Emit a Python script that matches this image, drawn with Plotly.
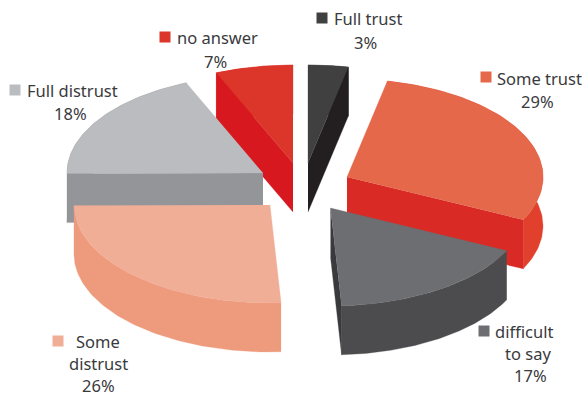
import numpy as np
import plotly.graph_objects as go

# ---- data (clockwise from 12 o'clock) ----
categories = ["Full trust", "Some trust", "difficult to say", "Some distrust", "Full distrust", "no answer"]
# printed percentages
percent_labels = [3, 29, 17, 26, 18, 7]
# slice sizes as they are actually drawn in the picture (measured from the slice edges)
slice_sizes = [3.3, 28.9, 16.9, 25.8, 18.7, 6.4]

# ---- styles ----
top_colors = ["#404041", "#e5684b", "#6d6e71", "#f1ae97", "#bbbcbf", "#dc3529"]
arc_colors = ["#2b292a", "#e0402c", "#4c4c4e", "#ee9a7c", "#939598", "#d7191f"]
# wall at the slice's start edge / end edge
start_wall = ["#231f20", "#d92a25", "#4c4c4e", "#ee9a7c", "#939598", "#d7191f"]
end_wall = ["#231f20", "#d92a25", "#3a3a3c", "#ee9a7c", "#939598", "#d7191f"]
draw_order = [5, 0, 4, 1, 2, 3]
text_color = "#3a3a3c"
FONT = "Noto Sans"
FONT_SIZE = 16.5

# ---- 3D projection layout (pixels) ----
TIPS = [(308, 163), (347, 177), (330.5, 208), (270, 205), (263, 173), (293, 163)]
RX, RY = 196, 98
DEPTH = 49

label_lines = {
    "Full trust": (["Full trust"], [(368, 18)], (322, 18)),
    "Some trust": (["Some trust"], [(539, 78)], (486, 77)),
    "difficult to say": (["difficult", "to say"], [(524, 331), (528, 353)], (484, 331)),
    "Some distrust": (["Some", "distrust"], [(98, 341), (98, 363)], (58, 341)),
    "Full distrust": (["Full distrust"], [(72, 90)], (15, 90)),
    "no answer": (["no answer"], [(217, 37)], (165, 37)),
}
pct_pos = {
    "Full trust": (365, 42),
    "Some trust": (537, 101),
    "difficult to say": (530, 375),
    "Some distrust": (98, 385),
    "Full distrust": (70, 113),
    "no answer": (215, 61),
}


def poly(fig, xs, ys, color):
    fig.add_trace(go.Scatter(x=xs, y=ys, mode="lines", fill="toself", fillcolor=color,
                             line=dict(color=color, width=0.3), hoverinfo="skip", showlegend=False))


fig = go.Figure()
total = sum(slice_sizes)
edges = np.concatenate([[0], np.cumsum(slice_sizes)]) / total * 2 * np.pi

for i in draw_order:
    a0, a1 = edges[i], edges[i + 1]
    tx, ty = TIPS[i]
    th = np.linspace(a0, a1, 80)
    ax = tx + RX * np.sin(th)
    ay = ty - RY * np.cos(th)
    # outer wall
    poly(fig, np.concatenate([ax, ax[::-1]]), np.concatenate([ay, ay[::-1] + DEPTH]), arc_colors[i])
    # radial walls that face the viewer
    if np.sin(a0) < -1e-9:
        poly(fig, [tx, ax[0], ax[0], tx], [ty, ay[0], ay[0] + DEPTH, ty + DEPTH], start_wall[i])
    if np.sin(a1) > 1e-9:
        poly(fig, [tx, ax[-1], ax[-1], tx], [ty, ay[-1], ay[-1] + DEPTH, ty + DEPTH], end_wall[i])
    # top
    poly(fig, np.concatenate([[tx], ax]), np.concatenate([[ty], ay]), top_colors[i])

annotations = []
kx, ky, kc = [], [], []
for i, name in enumerate(categories):
    lines, positions, key = label_lines[name]
    for t, p in zip(lines, positions):
        annotations.append(dict(x=p[0], y=p[1], text=t, showarrow=False, xanchor="center", yanchor="middle",
                                font=dict(family=FONT, size=FONT_SIZE, color=text_color)))
    p = pct_pos[name]
    annotations.append(dict(x=p[0], y=p[1], text=f"{percent_labels[i]}%", showarrow=False, xanchor="center",
                            yanchor="middle", font=dict(family=FONT, size=FONT_SIZE, color=text_color)))
    kx.append(key[0]); ky.append(key[1]); kc.append(top_colors[i])

fig.add_trace(go.Scatter(x=kx, y=ky, mode="markers", hoverinfo="skip", showlegend=False,
                         marker=dict(symbol="square", size=11, color=kc, line=dict(width=0))))

fig.update_layout(width=584, height=396, margin=dict(l=0, r=0, t=0, b=0),
                  paper_bgcolor="white", plot_bgcolor="white", annotations=annotations,
                  xaxis=dict(range=[0, 584], visible=False, fixedrange=True),
                  yaxis=dict(range=[396, 0], visible=False, fixedrange=True))
fig.write_html("out.html", config=dict(displayModeBar=False),
               post_script="document.body.style.margin='0';document.documentElement.style.overflow='hidden';")
